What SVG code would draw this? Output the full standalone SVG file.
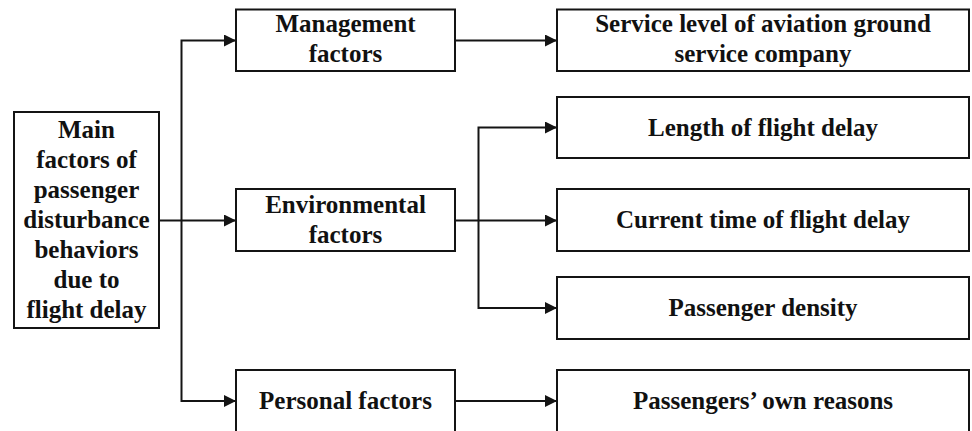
<svg xmlns="http://www.w3.org/2000/svg" width="972" height="431" viewBox="0 0 972 431">
  <style>
    .box { fill: #ffffff; stroke: #141414; stroke-width: 2; }
    .wire { fill: none; stroke: #141414; stroke-width: 2; }
  </style>
  <defs>
    <marker id="arrow" markerUnits="userSpaceOnUse" markerWidth="13" markerHeight="12" refX="12" refY="6" orient="auto">
      <path d="M0,0 L12,6 L0,12 Z" fill="#141414"/>
    </marker>
  </defs>
  <rect width="972" height="431" fill="#ffffff"/>

  <!-- connectors -->
  <g id="connectors">
    <path class="wire" d="M159,220.5 L236,220.5" marker-end="url(#arrow)"/>
    <path class="wire" d="M181.5,220.5 L181.5,40.5 L236,40.5" marker-end="url(#arrow)"/>
    <path class="wire" d="M181.5,220.5 L181.5,401 L236,401" marker-end="url(#arrow)"/>
    <path class="wire" d="M455,40.5 L557,40.5" marker-end="url(#arrow)"/>
    <path class="wire" d="M455,220.5 L557,220.5" marker-end="url(#arrow)"/>
    <path class="wire" d="M478.5,220.5 L478.5,127.5 L557,127.5" marker-end="url(#arrow)"/>
    <path class="wire" d="M478.5,220.5 L478.5,308 L557,308" marker-end="url(#arrow)"/>
    <path class="wire" d="M455,401 L557,401" marker-end="url(#arrow)"/>
  </g>

  <!-- all labels share one serif bold face -->
  <g font-family="Liberation Serif, DejaVu Serif, serif" font-weight="bold" font-size="25" fill="#111111" text-anchor="middle">
    <!-- root node -->
    <g id="main-factors">
      <rect class="box" x="14" y="112" width="145" height="216"/>
      <text x="86.5" y="138">Main</text>
      <text x="86.5" y="168">factors of</text>
      <text x="86.5" y="198">passenger</text>
      <text x="86.5" y="228">disturbance</text>
      <text x="86.5" y="258">behaviors</text>
      <text x="86.5" y="288">due to</text>
      <text x="86.5" y="318">flight delay</text>
    </g>

    <!-- factor categories -->
    <g id="management-factors">
      <rect class="box" x="236" y="9.5" width="219" height="61.5"/>
      <text x="345.5" y="32">Management</text>
      <text x="345.5" y="62">factors</text>
    </g>
    <g id="environmental-factors">
      <rect class="box" x="236" y="189" width="219" height="62"/>
      <text x="345.5" y="213">Environmental</text>
      <text x="345.5" y="243">factors</text>
    </g>
    <g id="personal-factors">
      <rect class="box" x="236" y="370" width="219" height="64"/>
      <text x="345.5" y="409">Personal factors</text>
    </g>

    <!-- specific factors -->
    <g id="service-level">
      <rect class="box" x="557" y="9.5" width="412" height="61.5"/>
      <text x="763" y="32">Service level of aviation ground</text>
      <text x="763" y="62">service company</text>
    </g>
    <g id="delay-length">
      <rect class="box" x="557" y="97" width="412" height="61"/>
      <text x="763" y="136">Length of flight delay</text>
    </g>
    <g id="delay-time">
      <rect class="box" x="557" y="189" width="412" height="62"/>
      <text x="763" y="228">Current time of flight delay</text>
    </g>
    <g id="passenger-density">
      <rect class="box" x="557" y="277" width="412" height="62"/>
      <text x="763" y="316">Passenger density</text>
    </g>
    <g id="own-reasons">
      <rect class="box" x="557" y="370" width="412" height="64"/>
      <text x="763" y="409">Passengers’ own reasons</text>
    </g>
  </g>
</svg>
